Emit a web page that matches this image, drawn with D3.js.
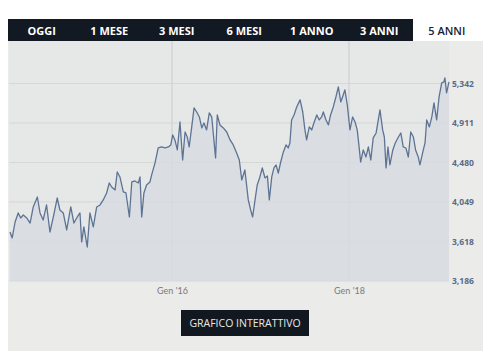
<!DOCTYPE html>
<html><head><meta charset="utf-8">
<script src="https://cdn.jsdelivr.net/npm/d3@7"></script>
<style>body{margin:0;background:#fff}svg{display:block}</style>
</head><body><svg id="c" width="500" height="359"></svg>
<script>
const tabs = ["OGGI","1 MESE","3 MESI","6 MESI","1 ANNO","3 ANNI","5 ANNI"];
const activeTab = "5 ANNI";
const buttonLabel = "GRAFICO INTERATTIVO";
const dates = ["2014-03-03","2014-03-12","2014-03-24","2014-04-06","2014-04-16","2014-04-27","2014-05-11","2014-05-25","2014-06-07","2014-06-24","2014-07-05","2014-07-18","2014-08-01","2014-08-15","2014-08-29","2014-09-14","2014-09-25","2014-10-09","2014-10-23","2014-11-09","2014-11-22","2014-12-06","2014-12-17","2014-12-24","2015-01-02","2015-01-16","2015-01-27","2015-02-10","2015-02-24","2015-03-10","2015-03-23","2015-04-06","2015-04-17","2015-04-27","2015-05-11","2015-05-20","2015-05-31","2015-06-14","2015-06-25","2015-07-09","2015-07-19","2015-08-01","2015-08-15","2015-08-22","2015-08-29","2015-09-07","2015-09-18","2015-10-02","2015-10-09","2015-10-23","2015-11-05","2015-11-19","2015-12-03","2015-12-17","2015-12-27","2016-01-04","2016-01-13","2016-01-23","2016-02-03","2016-02-14","2016-02-24","2016-03-04","2016-03-12","2016-03-22","2016-04-01","2016-04-12","2016-04-23","2016-05-03","2016-05-12","2016-05-23","2016-06-03","2016-06-13","2016-06-19","2016-06-29","2016-07-06","2016-07-17","2016-07-31","2016-08-14","2016-08-28","2016-09-10","2016-09-24","2016-10-05","2016-10-15","2016-10-28","2016-11-11","2016-11-21","2016-11-29","2016-12-09","2016-12-18","2016-12-29","2017-01-08","2017-01-19","2017-01-29","2017-02-06","2017-02-16","2017-02-25","2017-03-06","2017-03-15","2017-03-25","2017-04-05","2017-04-16","2017-04-25","2017-05-02","2017-05-09","2017-05-19","2017-05-30","2017-06-13","2017-06-24","2017-07-03","2017-07-10","2017-07-21","2017-07-31","2017-08-09","2017-08-21","2017-08-31","2017-09-10","2017-09-17","2017-09-28","2017-10-08","2017-10-17","2017-10-28","2017-11-08","2017-11-18","2017-11-28","2017-12-08","2017-12-15","2017-12-25","2018-01-05","2018-01-16","2018-01-26","2018-02-04","2018-02-13","2018-02-18","2018-03-01","2018-03-12","2018-03-22","2018-04-01","2018-04-11","2018-04-23","2018-05-02","2018-05-09","2018-05-20","2018-05-27","2018-06-03","2018-06-11","2018-06-19","2018-07-01","2018-07-11","2018-07-24","2018-08-03","2018-08-13","2018-08-24","2018-09-03","2018-09-13","2018-09-24","2018-10-03","2018-10-14","2018-10-21","2018-11-01","2018-11-11","2018-11-18","2018-11-29","2018-12-09","2018-12-18","2018-12-29","2019-01-08","2019-01-19","2019-01-28","2019-02-01","2019-02-08","2019-02-18"];
const values = [3721,3656,3830,3929,3874,3907,3874,3819,3994,4103,3929,3852,4016,3721,3885,4092,3961,3929,3743,3994,3819,3885,3929,3612,3776,3557,3929,3776,3994,4016,4071,4147,4256,4212,4180,4376,4322,4158,4147,3885,4267,4278,4256,4322,3885,4147,4234,4267,4344,4475,4638,4649,4638,4649,4671,4780,4726,4617,4922,4507,4813,4758,4649,4857,5075,5031,4977,4857,4911,4835,5021,4977,4813,4529,4999,4890,4857,4813,4726,4671,4584,4507,4289,4398,4071,3961,3885,4071,4234,4322,4420,4311,4333,4071,4322,4420,4453,4365,4485,4595,4671,4638,4693,4944,4999,5086,5163,5031,4835,4726,4868,4835,4911,4999,4944,4977,5031,4944,4890,4999,5086,5195,5304,5141,5217,5272,5108,4835,4977,4922,4835,4617,4485,4617,4540,4649,4507,4748,4802,4944,5053,4835,4758,4420,4649,4453,4617,4693,4758,4802,4649,4638,4540,4813,4758,4617,4540,4453,4584,4693,4944,4868,4977,5130,4944,5195,5348,5359,5403,5239,5359];
const yTicks = [3186,3618,4049,4480,4911,5342];
const yTickLabels = ["3,186","3,618","4,049","4,480","4,911","5,342"];
const xTicks = ["2016-01-01","2018-01-01"];
const xTickLabels = ["Gen '16","Gen '18"];

const parse = d3.utcParse("%Y-%m-%d");
const data = dates.map((d,i)=>({date:parse(d), value:values[i]}));
const svg = d3.select("#c");
const font = "'Open Sans', sans-serif";

// panel
const panel = {x0:8, x1:483, y0:41, y1:351};
const plot = {x0:9, x1:449, y0:41, y1:281};
svg.append("rect").attr("x",panel.x0).attr("y",panel.y0).attr("width",panel.x1-panel.x0).attr("height",panel.y1-panel.y0).attr("fill","#ebebea");
svg.append("rect").attr("x",plot.x0).attr("y",plot.y0).attr("width",plot.x1-plot.x0).attr("height",plot.y1-plot.y0).attr("fill","#e6e7e7");

// tabs
const tabScale = d3.scaleBand().domain(tabs).range([8, 480.5]);
svg.append("rect").attr("x",tabScale(tabs[0])).attr("y",19)
  .attr("width",tabScale(tabs[tabs.length-2])+tabScale.bandwidth()-tabScale(tabs[0])).attr("height",22).attr("fill","#121923");
svg.selectAll("text.tab").data(tabs).join("text").attr("class","tab")
  .attr("x",d=>tabScale(d)+tabScale.bandwidth()/2).attr("y",34.5)
  .attr("text-anchor","middle").attr("font-family",font).attr("font-size",11)
  .attr("font-weight",d=>d===activeTab?600:700)
  .attr("fill",d=>d===activeTab?"#1b2230":"#ffffff").text(d=>d);

// scales
const x = d3.scaleUtc().domain(d3.extent(data,d=>d.date)).range([10,449]);
const y = d3.scaleLinear().domain([3186,5342]).range([281,83.5]);

// grid
const g = svg.append("g");
g.selectAll("line.h").data(yTicks).join("line").attr("class","h")
  .attr("x1",plot.x0).attr("x2",plot.x1).attr("y1",d=>y(d)).attr("y2",d=>y(d))
  .attr("stroke","#d6d7d7").attr("stroke-width",1);
g.selectAll("line.v").data(xTicks).join("line").attr("class","v")
  .attr("x1",d=>x(parse(d))).attr("x2",d=>x(parse(d))).attr("y1",plot.y0).attr("y2",plot.y1)
  .attr("stroke","#d2d3d3").attr("stroke-width",1);

// area + line
const area = d3.area().x(d=>x(d.date)).y0(y(3186)).y1(d=>y(d.value));
svg.append("path").datum(data).attr("d",area).attr("fill","#d7dce2").attr("fill-opacity",0.85);
g.selectAll("line.v2").data(xTicks).join("line").attr("class","v2")
  .attr("x1",d=>x(parse(d))).attr("x2",d=>x(parse(d))).attr("y1",plot.y0).attr("y2",plot.y1)
  .attr("stroke","#cfd2d6").attr("stroke-width",1).attr("stroke-opacity",0.6);
const line = d3.line().x(d=>x(d.date)).y(d=>y(d.value));
svg.append("path").datum(data).attr("d",line).attr("fill","none").attr("stroke","#5d7394").attr("stroke-width",1.3).attr("stroke-linejoin","round");

// y axis
const yAxis = d3.axisRight(y).tickValues(yTicks).tickSize(0).tickPadding(0)
  .tickFormat((d,i)=>yTickLabels[i]);
const ya = svg.append("g").attr("transform",`translate(452,0)`).call(yAxis);
ya.select(".domain").remove();
ya.selectAll("text").attr("font-family",font).attr("font-size",8.5).attr("font-weight",700).attr("fill","#5b6b88").attr("dy","0.33em");

// x axis
const xAxis = d3.axisBottom(x).tickValues(xTicks.map(parse)).tickSize(0).tickPadding(0)
  .tickFormat((d,i)=>xTickLabels[i]);
const xa = svg.append("g").attr("transform",`translate(0,288)`).call(xAxis);
xa.select(".domain").remove();
xa.selectAll("text").attr("font-family","Lato, sans-serif").attr("font-size",9).attr("fill","#7a7a7a").attr("dy","0.71em");

// button
svg.append("rect").attr("x",181).attr("y",310).attr("width",128).attr("height",26).attr("fill","#121820");
svg.append("text").attr("x",245).attr("y",327).attr("text-anchor","middle")
  .attr("font-family",font).attr("font-size",10.5).attr("fill","#e8e8e8").text(buttonLabel);
</script></body></html>
